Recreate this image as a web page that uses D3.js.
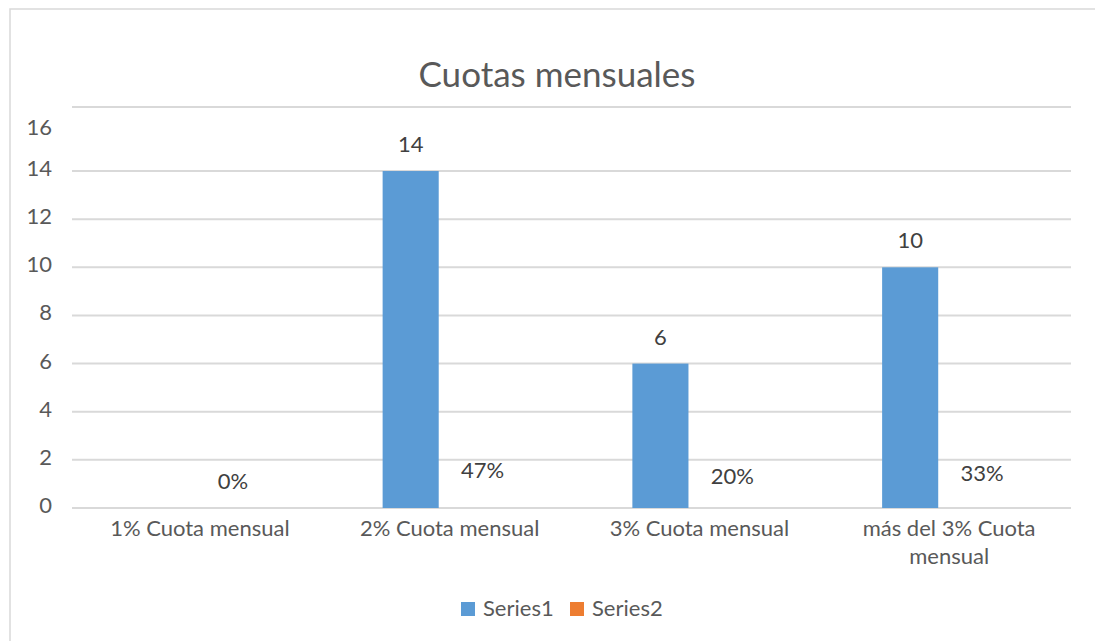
<!DOCTYPE html>
<html>
<head>
<meta charset="utf-8">
<script src="https://cdn.jsdelivr.net/npm/d3@7"></script>
<style>
  body { margin: 0; background: #fff; }
  text { font-family: Lato, "Open Sans", sans-serif; }
</style>
</head>
<body>
<svg width="1095" height="641"></svg>
<script>
let categories = ["1% Cuota mensual", "2% Cuota mensual", "3% Cuota mensual", "más del 3% Cuota mensual"];
let series1 = [null, 14, 6, 10];
let series2 = [0, 0.47, 0.20, 0.33];
let seriesNames = ["Series1", "Series2"];
let colors = ["#5b9bd5", "#ed7d31"];
let yTicks = [0, 2, 4, 6, 8, 10, 12, 14, 16];
let yMax = 16.66; // plot top sits a bit above the last label

let svg = d3.select("svg"),
    width = 1095,
    height = 641;

let margin = {left: 72, right: 1071, top: 107, bottom: 508};

// chart border
svg.append("rect")
  .attr("x", 10).attr("y", 9)
  .attr("width", 1200).attr("height", 1000)
  .attr("fill", "none")
  .attr("stroke", "#d9d9d9")
  .attr("stroke-width", 1.5);

svg.append("text")
  .attr("x", 557).attr("y", 87)
  .attr("text-anchor", "middle")
  .attr("font-size", 35)
  .attr("fill", "#595959")
  .text("Cuotas mensuales");

let x0 = d3.scaleBand()
  .domain(categories)
  .range([margin.left, margin.right]);

let x1 = d3.scaleBand()
  .domain(seriesNames)
  .range([x0.bandwidth() / 2 - 64, x0.bandwidth() / 2 + 64])
  .paddingInner(0.22);

let y = d3.scaleLinear()
  .domain([0, yMax])
  .range([margin.bottom, margin.top]);

// gridlines: labelled ticks below 16, plus the plot top
let gridVals = yTicks.filter(d => d < 16).concat([yMax]);
svg.append("g").selectAll("line")
  .data(gridVals)
  .join("line")
    .attr("x1", margin.left)
    .attr("x2", margin.right)
    .attr("y1", d => y(d))
    .attr("y2", d => y(d))
    .attr("stroke", "#d9d9d9")
    .attr("stroke-width", 2);

svg.append("g").selectAll("text")
  .data(yTicks)
  .join("text")
    .attr("x", 52)
    .attr("y", d => y(d))
    .attr("dy", d => d == 16 ? 12 : 5)
    .attr("text-anchor", "end")
    .attr("font-size", 22)
    .attr("fill", "#595959")
    .text(d => d);

// bars
let bars = categories.map((c, i) => ({cat: c, v: series1[i]})).filter(d => d.v != null);
svg.append("g").selectAll("rect")
  .data(bars)
  .join("rect")
    .attr("x", d => x0(d.cat) + x1("Series1"))
    .attr("width", x1.bandwidth())
    .attr("y", d => y(d.v))
    .attr("height", d => y(0) - y(d.v))
    .attr("fill", colors[0]);

svg.append("g").selectAll("text")
  .data(bars)
  .join("text")
    .attr("x", d => x0(d.cat) + x1("Series1") + x1.bandwidth() / 2)
    .attr("y", d => y(d.v) - 19)
    .attr("text-anchor", "middle")
    .attr("font-size", 22)
    .attr("fill", "#404040")
    .text(d => d.v);

// Series2 values are too small to show as bars; only their labels appear
let pct = d3.format(".0%");
let s2 = categories.map((c, i) => ({cat: c, v: series2[i]}));
svg.append("g").selectAll("text")
  .data(s2)
  .join("text")
    .attr("x", d => x0(d.cat) + x1("Series2") + x1.bandwidth() / 2)
    .attr("y", d => y(d.v) - 19)
    .attr("text-anchor", "middle")
    .attr("font-size", 22)
    .attr("fill", "#404040")
    .text(d => pct(d.v));

// category labels with wrapping
svg.append("g").selectAll("text")
  .data(categories)
  .join("text")
    .attr("x", d => x0(d) + x0.bandwidth() / 2 + 3)
    .attr("y", 536)
    .attr("text-anchor", "middle")
    .attr("font-size", 22)
    .attr("fill", "#595959")
    .each(function(d) {
      let t = d3.select(this);
      let words = d.split(" "), line = [], lines = [];
      words.forEach(w => {
        let test = line.concat([w]).join(" ");
        if (test.length > 17 && line.length) { lines.push(line.join(" ")); line = [w]; }
        else line.push(w);
      });
      lines.push(line.join(" "));
      lines.forEach((l, k) => {
        t.append("tspan")
          .attr("x", t.attr("x"))
          .attr("dy", k == 0 ? 0 : 28)
          .text(l);
      });
    });

// legend
let legend = svg.append("g").selectAll("g")
  .data(seriesNames)
  .join("g")
    .attr("transform", (d, i) => `translate(${461 + i * 109}, 602)`);

legend.append("rect")
  .attr("width", 14).attr("height", 14)
  .attr("fill", (d, i) => colors[i]);

legend.append("text")
  .attr("x", 22).attr("y", 14)
  .attr("font-size", 22)
  .attr("fill", "#595959")
  .text(d => d);
</script>
</body>
</html>
